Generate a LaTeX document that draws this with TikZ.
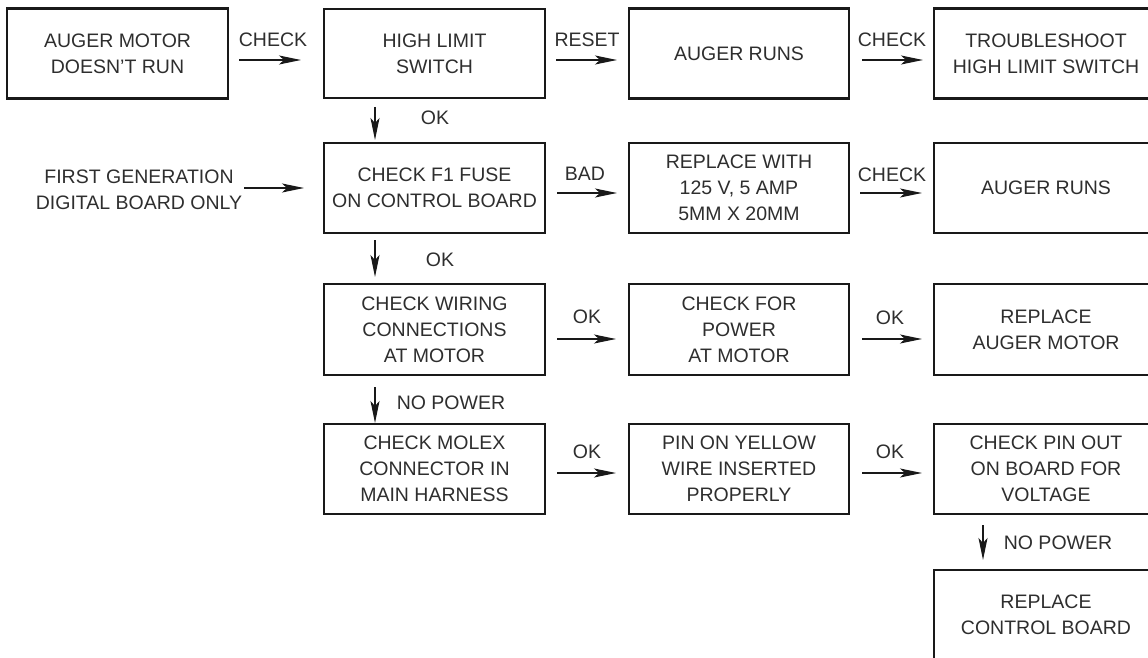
\documentclass[tikz,border=0pt]{standalone}
\usepackage{fontspec}
\setmainfont{Liberation Sans}
\usetikzlibrary{arrows.meta}
\begin{document}
\begin{tikzpicture}[x=1pt,y=-1pt,
  box/.style={draw=black!90, line width=2.4pt, minimum width=221pt, minimum height=90pt,
    inner sep=0pt, outer sep=0pt, align=center, font=\fontsize{19.5}{26}\selectfont, text=black!82},
  lbl/.style={font=\fontsize{19.5}{26}\selectfont, text=black!82, inner sep=0pt, align=center},
  arr/.style={line width=1.4pt, draw=black!90, -{Stealth[length=22pt,width=9pt,inset=5pt]}}
]
\useasboundingbox (0,0) rectangle (1148,658);
\clip (0,0) rectangle (1148,658);
\fill[white] (0,0) rectangle (1148,658);

% row 1
\node[box] (b1) at (117.5,53.5) {AUGER MOTOR\\DOESN{\char"0027}T RUN};
\node[box, minimum height=89pt] (b2) at (434.5,53.5) {HIGH LIMIT\\SWITCH};
\node[box, minimum width=220pt] (b3) at (739,53.5) {AUGER RUNS};
\node[box, minimum width=224pt] (b4) at (1046,53.5) {TROUBLESHOOT\\HIGH LIMIT SWITCH};

% row 2
\node[lbl] (first) at (139,189.5) {FIRST GENERATION\\DIGITAL BOARD ONLY};
\node[box] (f1) at (434.5,188) {CHECK F1 FUSE\\ON CONTROL BOARD};
\node[box, minimum width=220pt] (rep) at (739,188) {REPLACE WITH\\125 V, 5 AMP\\5MM X 20MM};
\node[box, minimum width=224pt] (runs2) at (1046,188) {AUGER RUNS};

% row 3
\node[box, minimum height=91pt] (wir) at (434.5,329.5) {CHECK WIRING\\CONNECTIONS\\AT MOTOR};
\node[box, minimum width=220pt, minimum height=91pt] (pow) at (739,329.5) {CHECK FOR\\POWER\\AT MOTOR};
\node[box, minimum width=224pt, minimum height=91pt] (ram) at (1046,329.5) {REPLACE\\AUGER MOTOR};

% row 4
\node[box] (mol) at (434.5,469) {CHECK MOLEX\\CONNECTOR IN\\MAIN HARNESS};
\node[box, minimum width=220pt] (pin) at (739,469) {PIN ON YELLOW\\WIRE INSERTED\\PROPERLY};
\node[box, minimum width=224pt] (pout) at (1046,469) {CHECK PIN OUT\\ON BOARD FOR\\VOLTAGE};

% row 5
\node[box, minimum width=224pt] (rcb) at (1046,615) {REPLACE\\CONTROL BOARD};

% horizontal arrows, row 1
\draw[arr] ([xshift=11pt,yshift=-6.5pt]b1.east) -- ([xshift=-23pt,yshift=-6.5pt]b2.west);
\draw[arr] ([xshift=11pt,yshift=-6.5pt]b2.east) -- ([xshift=-12pt,yshift=-6.5pt]b3.west);
\draw[arr] ([xshift=13pt,yshift=-6.5pt]b3.east) -- ([xshift=-11pt,yshift=-6.5pt]b4.west);
\node[lbl] (l1) at (273,40) {CHECK};
\node[lbl] (l2) at (587,40) {RESET};
\node[lbl] (l3) at (892,40) {CHECK};

% row 2
\draw[arr] ([xshift=-80pt]f1.west) -- ([xshift=-20pt]f1.west);
\draw[arr] ([xshift=12pt,yshift=-5pt]f1.east) -- ([xshift=-12pt,yshift=-5pt]rep.west);
\draw[arr] ([xshift=11pt,yshift=-5pt]rep.east) -- ([xshift=-12pt,yshift=-5pt]runs2.west);
\node[lbl] (l4) at (585,174) {BAD};
\node[lbl] (l5) at (892,175) {CHECK};

% row 3
\draw[arr] ([xshift=12pt,yshift=-9.5pt]wir.east) -- ([xshift=-13pt,yshift=-9.5pt]pow.west);
\draw[arr] ([xshift=13pt,yshift=-9.5pt]pow.east) -- ([xshift=-12pt,yshift=-9.5pt]ram.west);
\node[lbl] (l6) at (587,317) {OK};
\node[lbl] (l7) at (890,318) {OK};

% row 4
\draw[arr] ([xshift=12pt,yshift=-4pt]mol.east) -- ([xshift=-13pt,yshift=-4pt]pin.west);
\draw[arr] ([xshift=13pt,yshift=-4pt]pin.east) -- ([xshift=-12pt,yshift=-4pt]pout.west);
\node[lbl] (l8) at (587,452) {OK};
\node[lbl] (l9) at (890,452) {OK};

% vertical arrows
\draw[arr] ([xshift=-59.5pt,yshift=-9pt]b2.south) -- ([xshift=-59.5pt,yshift=3pt]f1.north);
\draw[arr] ([xshift=-59.5pt,yshift=-7pt]f1.south) -- ([xshift=-59.5pt,yshift=7pt]wir.north);
\draw[arr] ([xshift=-59.5pt,yshift=-12pt]wir.south) -- ([xshift=-59.5pt,yshift=1pt]mol.north);
\draw[arr] ([xshift=-63pt,yshift=-11pt]pout.south) -- ([xshift=-63pt,yshift=10pt]rcb.north);
\node[lbl] (l10) at (435,118) {OK};
\node[lbl] (l11) at (440,260) {OK};
\node[lbl] (l12) at (451,403) {NO POWER};
\node[lbl] (l13) at (1058,543) {NO POWER};
\end{tikzpicture}
\end{document}
